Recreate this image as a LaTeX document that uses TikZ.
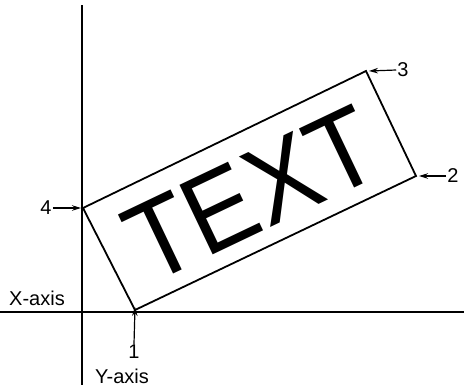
\documentclass[tikz,border=0pt]{standalone}
\usepackage{fontspec}
\usetikzlibrary{arrows.meta}
\newfontfamily\hvfont{Liberation Sans}
\begin{document}
\begin{tikzpicture}[x=1pt,y=-1pt,
  axis/.style={line width=2.2pt},
  boxline/.style={line width=1.8pt, line join=miter},
  ptr/.style={line width=1.2pt, -{Stealth[length=9pt,width=5.5pt]}},
  lbl/.style={font=\hvfont\fontsize{20}{20}\selectfont, inner sep=1pt}]
\useasboundingbox (0,0) rectangle (464,386);
\coordinate (yt) at (82,5);
\coordinate (yb) at (82,385);
\coordinate (xl) at (0,312);
\coordinate (xr) at (464,312);
\draw[axis] (yt) -- (yb);
\draw[axis] (xl) -- (xr);
\coordinate (c1) at (135,310);
\coordinate (c2) at (416,176);
\coordinate (c3) at (366,71);
\coordinate (c4) at (83,208);
\draw[boxline] (c1) -- (c2) -- (c3) -- (c4) -- cycle;
\node[rotate=25.5, anchor=base, inner sep=0pt, font=\hvfont\fontsize{112}{112}\selectfont] (txt) at (268,229) {\scalebox{0.92}[1]{TEXT}};
\node[lbl] (l4) at (46,208) {4};
\node[lbl] (l1) at (134,352) {1};
\node[lbl] (l3) at (403,70) {3};
\node[lbl] (l2) at (453,176) {2};
\node[lbl] (xa) at (37,298) {X-axis};
\node[lbl] (ya) at (122,376) {Y-axis};
\draw[ptr] (l4.east) -- ([xshift=-2pt]c4);
\draw[ptr] (l1.north) -- ([yshift=3pt]c1);
\draw[ptr] (l3.west) -- ([xshift=3pt]c3);
\draw[ptr] (l2.west) -- ([xshift=3pt]c2);
\end{tikzpicture}
\end{document}
